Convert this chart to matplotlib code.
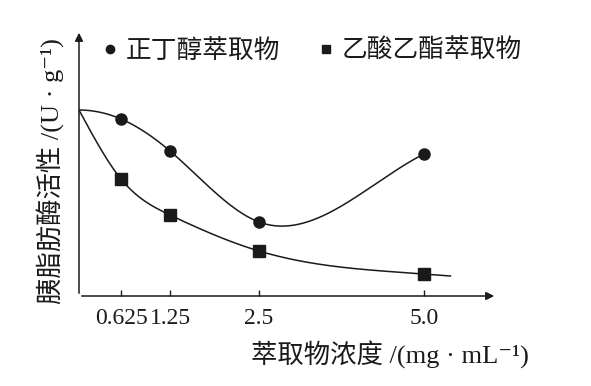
import numpy as np
import matplotlib
matplotlib.use("Agg")
import matplotlib.pyplot as plt

plt.rcParams['font.family'] = ['Liberation Serif', 'Noto Sans CJK SC', 'DejaVu Sans']

# Extract concentration (mg/mL) and lipase activity (arbitrary units)
conc = [0.625, 1.25, 2.5, 5.0]
tick_labels = ['0.625', '1.25', '2.5', '5.0']
control = 186  # activity at zero concentration, both curves start here
butanol = [177, 145, 74, 142]
ethyl_acetate = [117, 81, 45, 22]
ethyl_tail = (5.4, 20)  # where the fitted ethyl acetate curve stops

# the x axis in the figure is not drawn to scale: piecewise mapping of the ticks
scale_val = [0, 0.625, 1.25, 2.5, 5.0, 10.0]
scale_pos = [0, 42, 91, 180, 345, 675]


def fwd(x):
    return np.interp(x, scale_val, scale_pos)


def inv(p):
    return np.interp(p, scale_pos, scale_val)


def spline(x, y, xs, d0=None, d1=None):
    # cubic spline; natural ends unless an end slope is given
    x = np.asarray(x, float)
    y = np.asarray(y, float)
    n = len(x)
    h = np.diff(x)
    A = np.zeros((n, n))
    b = np.zeros(n)
    if d0 is None:
        A[0, 0] = 1
    else:
        A[0, 0] = 2 * h[0]
        A[0, 1] = h[0]
        b[0] = 6 * ((y[1] - y[0]) / h[0] - d0)
    for i in range(1, n - 1):
        A[i, i - 1] = h[i - 1]
        A[i, i] = 2 * (h[i - 1] + h[i])
        A[i, i + 1] = h[i]
        b[i] = 6 * ((y[i + 1] - y[i]) / h[i] - (y[i] - y[i - 1]) / h[i - 1])
    if d1 is None:
        A[-1, -1] = 1
    else:
        A[-1, -2] = h[-1]
        A[-1, -1] = 2 * h[-1]
        b[-1] = 6 * (d1 - (y[-1] - y[-2]) / h[-1])
    M = np.linalg.solve(A, b)
    idx = np.clip(np.searchsorted(x, xs) - 1, 0, n - 2)
    x0, x1 = x[idx], x[idx + 1]
    hh = x1 - x0
    return (M[idx] * (x1 - xs) ** 3 / (6 * hh) + M[idx + 1] * (xs - x0) ** 3 / (6 * hh)
            + (y[idx] / hh - M[idx] * hh / 6) * (x1 - xs)
            + (y[idx + 1] / hh - M[idx + 1] * hh / 6) * (xs - x0))


fig = plt.figure(figsize=(5.91, 3.86), dpi=100)
ax = fig.add_axes([79 / 591, 1 - 296 / 386, 418 / 591, 266 / 386])
ax.set_xscale('function', functions=(fwd, inv))

col = '#1a1a1a'

# butanol curve
px = fwd(np.array([0] + conc))
py = [control] + butanol
xs = np.linspace(px[0], px[-1], 300)
ax.plot(inv(xs), spline(px, py, xs, d0=0.0, d1=0.5), color=col, lw=1.1)
ax.plot(conc, butanol, 'o', color=col, ms=8, label='正丁醇萃取物')

# ethyl acetate curve
px = fwd(np.array([0] + conc + [ethyl_tail[0]]))
py = [control] + ethyl_acetate + [ethyl_tail[1]]
xs = np.linspace(px[0], px[-1], 300)
ax.plot(inv(xs), spline(px, py, xs), color=col, lw=1.1)
ax.plot(conc, ethyl_acetate, 's', color=col, ms=8, label='乙酸乙酯萃取物')

ax.set_xlim(0, inv(418))
ax.set_ylim(0, 266)
ax.set_xticks(conc)
ax.set_xticklabels(tick_labels)
ax.minorticks_off()
ax.set_yticks([])
ax.tick_params(axis='x', direction='in', length=4, width=1, pad=9,
               labelsize=17, color=col, labelcolor=col)

for s in ax.spines.values():
    s.set_visible(False)
ax.annotate('', xy=(1, 0), xytext=(0, 0), xycoords='axes fraction',
            arrowprops=dict(arrowstyle='-|>', color=col, lw=1.1, mutation_scale=12))
ax.annotate('', xy=(0, 1), xytext=(0, 0), xycoords='axes fraction',
            arrowprops=dict(arrowstyle='-|>', color=col, lw=1.1, mutation_scale=12))

ax.text(-0.07, 0.47, '胰脂肪酶活性 /(U · g⁻¹)', rotation=90, ha='center', va='center',
        fontsize=19, color=col, transform=ax.transAxes)
ax.text(0.744, -0.222, '萃取物浓度 /(mg · mL⁻¹)', ha='center', va='center',
        fontsize=19, color=col, transform=ax.transAxes)

ax.legend(loc='upper left', bbox_to_anchor=(0.0, 1.055), ncol=2, frameon=False,
          fontsize=18.5, handlelength=0.6, handletextpad=0.3, columnspacing=1.5,
          markerscale=0.75, labelcolor=col)

fig.savefig('out.png', dpi=100)
